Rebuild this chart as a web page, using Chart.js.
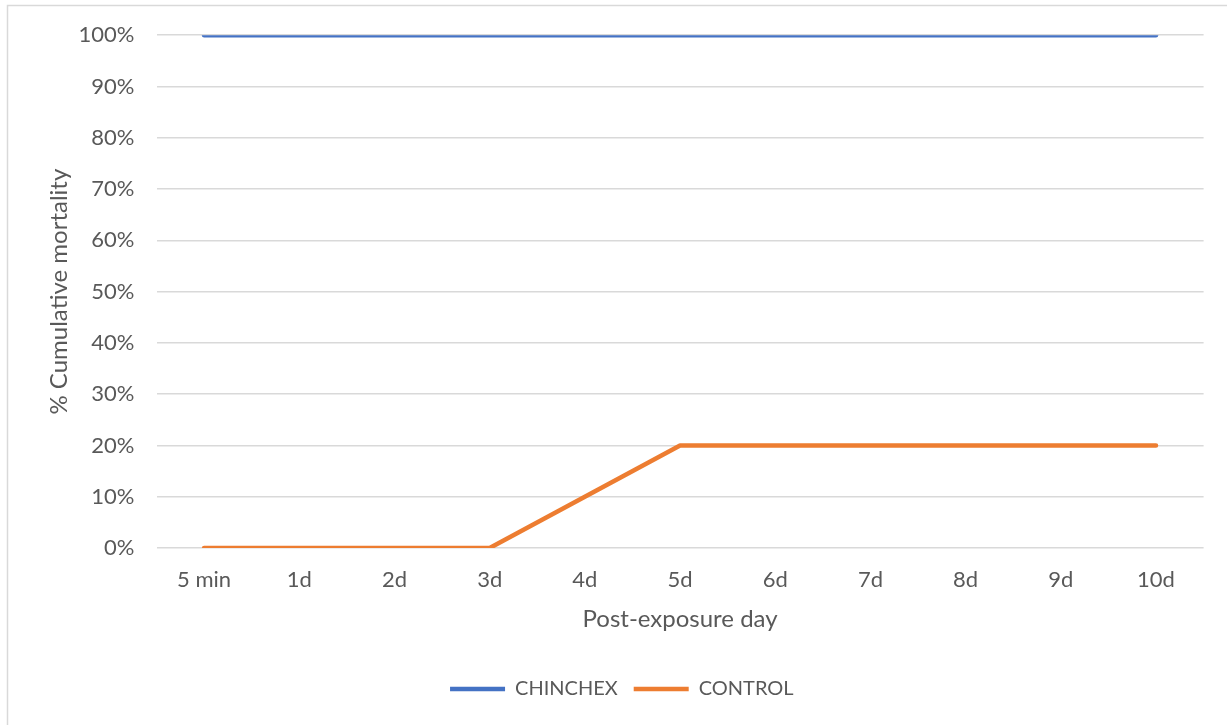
<!DOCTYPE html>
<html>
<head>
<meta charset="utf-8">
<script src="https://cdn.jsdelivr.net/npm/chart.js@4/dist/chart.umd.min.js"></script>
<style>
  html, body { margin: 0; padding: 0; background: #ffffff; }
  #wrap { position: relative; width: 1227px; height: 725px; }
</style>
</head>
<body>
<div id="wrap"><canvas id="chart" width="1227" height="725"></canvas></div>
<script>
// Post-exposure days
const categories = ['5 min', '1d', '2d', '3d', '4d', '5d', '6d', '7d', '8d', '9d', '10d'];
// Cumulative mortality, percent
const chinchex = [100, 100, 100, 100, 100, 100, 100, 100, 100, 100, 100];
const control = [0, 0, 0, 0, 10, 20, 20, 20, 20, 20, 20];
// Y axis tick values, percent
const yTicks = [0, 10, 20, 30, 40, 50, 60, 70, 80, 90, 100];

const FONT = 'Lato, "Open Sans", "Liberation Sans", sans-serif';
const TEXT = '#595959';
const GRID = '#d9d9d9';

// Frame line around the chart
const framePlugin = {
  id: 'frame',
  beforeDraw(chart) {
    const ctx = chart.ctx;
    ctx.save();
    ctx.fillStyle = '#ffffff';
    ctx.fillRect(0, 0, chart.width, chart.height);
    ctx.strokeStyle = GRID;
    ctx.lineWidth = 1.5;
    ctx.strokeRect(7.5, 5.5, chart.width + 20, chart.height + 20);
    ctx.restore();
  }
};

new Chart(document.getElementById('chart'), {
  type: 'line',
  data: {
    labels: categories,
    datasets: [
      {
        label: 'CHINCHEX',
        data: chinchex,
        borderColor: '#4472C4',
        backgroundColor: '#4472C4',
        borderWidth: 4.5,
        borderCapStyle: 'round',
        borderJoinStyle: 'round',
        pointRadius: 0,
        tension: 0
      },
      {
        label: 'CONTROL',
        data: control,
        borderColor: '#ED7D31',
        backgroundColor: '#ED7D31',
        borderWidth: 4.5,
        borderCapStyle: 'round',
        borderJoinStyle: 'round',
        pointRadius: 0,
        tension: 0
      }
    ]
  },
  options: {
    responsive: false,
    animation: false,
    layout: { padding: { left: 40, right: 23.4, top: 34, bottom: 16 } },
    plugins: {
      tooltip: { enabled: false },
      legend: {
        position: 'bottom',
        labels: {
          usePointStyle: true,
          pointStyle: 'line',
          pointStyleWidth: 55,
          boxHeight: 20,
          padding: 16,
          color: TEXT,
          font: { family: FONT, size: 20 }
        }
      }
    },
    scales: {
      x: {
        offset: true,
        grid: { display: false, drawTicks: false },
        border: { display: false },
        ticks: { color: TEXT, font: { family: FONT, size: 22 }, padding: 19, maxRotation: 0 },
        title: {
          display: true,
          text: 'Post-exposure day',
          color: TEXT,
          font: { family: FONT, size: 24 },
          padding: { top: 0, bottom: 29 }
        },
        afterFit(scale) { scale.height = 115; }
      },
      y: {
        min: 0,
        max: 100,
        grid: { color: GRID, lineWidth: 1.5, drawTicks: false },
        border: { display: false },
        afterBuildTicks(scale) { scale.ticks = yTicks.map(v => ({ value: v })); },
        ticks: {
          color: TEXT,
          font: { family: FONT, size: 22 },
          padding: 22,
          callback: v => v + '%'
        },
        title: {
          display: true,
          text: '% Cumulative mortality',
          color: TEXT,
          font: { family: FONT, size: 24 },
          padding: { top: 5, bottom: 0 }
        },
        afterFit(scale) { scale.width = 116.5; }
      }
    }
  },
  plugins: [framePlugin]
});
</script>
</body>
</html>
